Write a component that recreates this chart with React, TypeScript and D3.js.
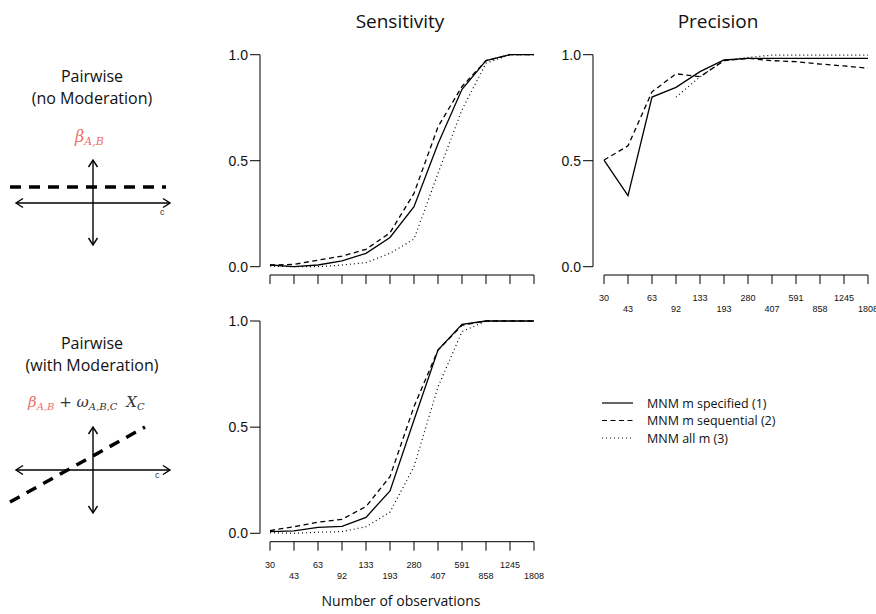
import React from "react";
import * as d3 from "d3";

const categories = ["30", "43", "63", "92", "133", "193", "280", "407", "591", "858", "1245", "1808"];
const yTicks = [0, 0.5, 1];

// Sensitivity, no moderation
const sensTopSpecified = [0.008, 0.0, 0.008, 0.027, 0.063, 0.138, 0.283, 0.58, 0.837, 0.972, 1.0, 1.0];
const sensTopSequential = [0.008, 0.011, 0.031, 0.05, 0.082, 0.16, 0.346, 0.66, 0.85, 0.972, 1.0, 1.0];
const sensTopAll = [0.003, 0.0, 0.0, 0.008, 0.019, 0.063, 0.13, 0.44, 0.74, 0.96, 1.0, 1.0];

// Precision, no moderation
const precSpecified = [0.503, 0.335, 0.8, 0.846, 0.92, 0.975, 0.983, 0.983, 0.983, 0.983, 0.983, 0.983];
const precSequential = [0.503, 0.57, 0.825, 0.91, 0.896, 0.972, 0.983, 0.972, 0.967, 0.956, 0.947, 0.936];
const precAll: (number | null)[] = [null, null, null, 0.8, 0.896, 0.972, 0.987, 0.998, 0.998, 0.998, 0.998, 0.998];

// Sensitivity, with moderation
const sensBotSpecified = [0.008, 0.011, 0.028, 0.033, 0.075, 0.2, 0.534, 0.863, 0.984, 1.0, 1.0, 1.0];
const sensBotSequential = [0.013, 0.031, 0.052, 0.066, 0.126, 0.267, 0.597, 0.863, 0.98, 1.0, 1.0, 1.0];
const sensBotAll = [0.003, 0.0, 0.005, 0.008, 0.031, 0.1, 0.314, 0.69, 0.95, 1.0, 1.0, 1.0];

const legendLabels = ["MNM m specified (1)", "MNM m sequential (2)", "MNM all m (3)"];
const dashes = [undefined, "5,3.5", "1,3"];

const AX_FONT = "'Liberation Sans', Arial, Helvetica, sans-serif";
const TXT_FONT = "'Open Sans', 'Noto Sans', sans-serif";
const MATH_FONT = "'DejaVu Serif', 'Liberation Serif', serif";
const RED = "#ee6e6a";

type PanelProps = {
  x0: number; x1: number; yTop: number; yBot: number; axisX: number; xAxisY: number;
  series: (number | null)[][]; labels: boolean;
};

function Panel({ x0, x1, yTop, yBot, axisX, xAxisY, series, labels }: PanelProps) {
  const x = d3.scalePoint<string>().domain(categories).range([x0, x1]);
  const y = d3.scaleLinear().domain([0, 1]).range([yBot, yTop]);
  const line = d3
    .line<number | null>()
    .defined((d) => d !== null)
    .x((_, i) => x(categories[i]) as number)
    .y((d) => y(d as number));
  return (
    <g>
      <line x1={axisX} x2={axisX} y1={y(0)} y2={y(1)} stroke="#000" strokeWidth={1} />
      {yTicks.map((t) => (
        <g key={t}>
          <line x1={axisX - 10} x2={axisX} y1={y(t)} y2={y(t)} stroke="#000" strokeWidth={1} />
          <text x={axisX - 12} y={y(t) + 5} textAnchor="end" fontSize={14} fontFamily={AX_FONT} fill="#111">
            {t.toFixed(1)}
          </text>
        </g>
      ))}
      <line x1={x0} x2={x1} y1={xAxisY} y2={xAxisY} stroke="#000" strokeWidth={1} />
      {categories.map((c, i) => (
        <g key={c}>
          <line x1={x(c)} x2={x(c)} y1={xAxisY} y2={xAxisY + 9} stroke="#000" strokeWidth={1} />
          {labels && (
            <text
              x={x(c)}
              y={xAxisY + (i % 2 === 0 ? 26 : 37)}
              textAnchor="middle"
              fontSize={9}
              fontFamily={AX_FONT}
              fill="#111"
            >
              {c}
            </text>
          )}
        </g>
      ))}
      {series.map((s, k) => (
        <path
          key={k}
          d={line(s) || ""}
          fill="none"
          stroke="#000"
          strokeWidth={k === 2 ? 1.2 : 1.3}
          strokeDasharray={dashes[k]}
        />
      ))}
    </g>
  );
}

function Arrow({ x1, y1, x2, y2 }: { x1: number; y1: number; x2: number; y2: number }) {
  const ang = Math.atan2(y2 - y1, x2 - x1);
  const L = 7, W = 4.5;
  const head = (px: number, py: number, a: number) => {
    const bx = px - L * Math.cos(a), by = py - L * Math.sin(a);
    const nx = -Math.sin(a) * W, ny = Math.cos(a) * W;
    return `M${bx + nx},${by + ny}L${px},${py}L${bx - nx},${by - ny}`;
  };
  return (
    <g stroke="#000" strokeWidth={1.4} fill="none">
      <line x1={x1} y1={y1} x2={x2} y2={y2} />
      <path d={head(x2, y2, ang)} />
      <path d={head(x1, y1, ang + Math.PI)} />
    </g>
  );
}

export default function App() {
  return (
    <svg width={876} height={614} style={{ position: "absolute", left: 0, top: 0, background: "#fff" }}>
      <rect width={876} height={614} fill="#fff" />
      {/* titles */}
      <text x={400} y={28} textAnchor="middle" fontSize={19} fontFamily={TXT_FONT} fill="#111">Sensitivity</text>
      <text x={718} y={28} textAnchor="middle" fontSize={19} fontFamily={TXT_FONT} fill="#111">Precision</text>
      <text x={401} y={606} textAnchor="middle" fontSize={14} fontFamily={TXT_FONT} fill="#111">Number of observations</text>

      <Panel x0={270} x1={534} yTop={54.7} yBot={266.7} axisX={260} xAxisY={275}
        series={[sensTopSpecified, sensTopSequential, sensTopAll]} labels={false} />
      <Panel x0={604} x1={868} yTop={54.7} yBot={266.7} axisX={593} xAxisY={275}
        series={[precSpecified, precSequential, precAll]} labels={true} />
      <Panel x0={270} x1={534} yTop={321} yBot={533.3} axisX={260} xAxisY={541.7}
        series={[sensBotSpecified, sensBotSequential, sensBotAll]} labels={true} />

      {/* legend */}
      {legendLabels.map((l, i) => (
        <g key={l}>
          <line x1={602} x2={633} y1={403 + i * 17.5} y2={403 + i * 17.5} stroke="#000" strokeWidth={1.2}
            strokeDasharray={dashes[i]} />
          <text x={647} y={403 + i * 17.5 + 4.5} fontSize={12.5} fontFamily={TXT_FONT} fill="#111">{l}</text>
        </g>
      ))}

      {/* left diagram: no moderation */}
      <text x={92} y={82} textAnchor="middle" fontSize={16} fontFamily={TXT_FONT} fill="#111">Pairwise</text>
      <text x={92} y={104} textAnchor="middle" fontSize={16} fontFamily={TXT_FONT} fill="#111">(no Moderation)</text>
      <text x={75} y={142} fontFamily={MATH_FONT} fill={RED} fontStyle="italic">
        <tspan fontSize={16}>β</tspan>
        <tspan fontSize={11} dy={3}>A,B</tspan>
      </text>
      <line x1={10} x2={166} y1={187} y2={187} stroke="#000" strokeWidth={3.5} strokeDasharray="11,8" />
      <Arrow x1={16} y1={203} x2={170} y2={203} />
      <Arrow x1={93} y1={160} x2={93} y2={245} />
      <text x={160} y={215} fontSize={9} fontFamily={AX_FONT} fill="#333">c</text>

      {/* left diagram: with moderation */}
      <text x={92} y={349} textAnchor="middle" fontSize={16} fontFamily={TXT_FONT} fill="#111">Pairwise</text>
      <text x={92} y={371} textAnchor="middle" fontSize={16} fontFamily={TXT_FONT} fill="#111">(with Moderation)</text>
      <text x={28} y={407} fontFamily={MATH_FONT} fontStyle="italic">
        <tspan fontSize={15} fill={RED}>β</tspan>
        <tspan fontSize={10} dy={3} fill={RED}>A,B</tspan>
        <tspan fontSize={15} dy={-3} fill="#333" fontStyle="normal"> + </tspan>
        <tspan fontSize={15} fill="#333">ω</tspan>
        <tspan fontSize={10} dy={3} fill="#333">A,B,C</tspan>
        <tspan fontSize={15} dy={-3} dx={9} fill="#333">X</tspan>
        <tspan fontSize={10} dy={3} fill="#333">C</tspan>
      </text>
      <line x1={10} y1={502} x2={145} y2={427} stroke="#000" strokeWidth={3.5} strokeDasharray="11,8" />
      <Arrow x1={16} y1={470} x2={170} y2={470} />
      <Arrow x1={93} y1={427} x2={93} y2={513} />
      <text x={155} y={478} fontSize={9} fontFamily={AX_FONT} fill="#333">c</text>
    </svg>
  );
}
